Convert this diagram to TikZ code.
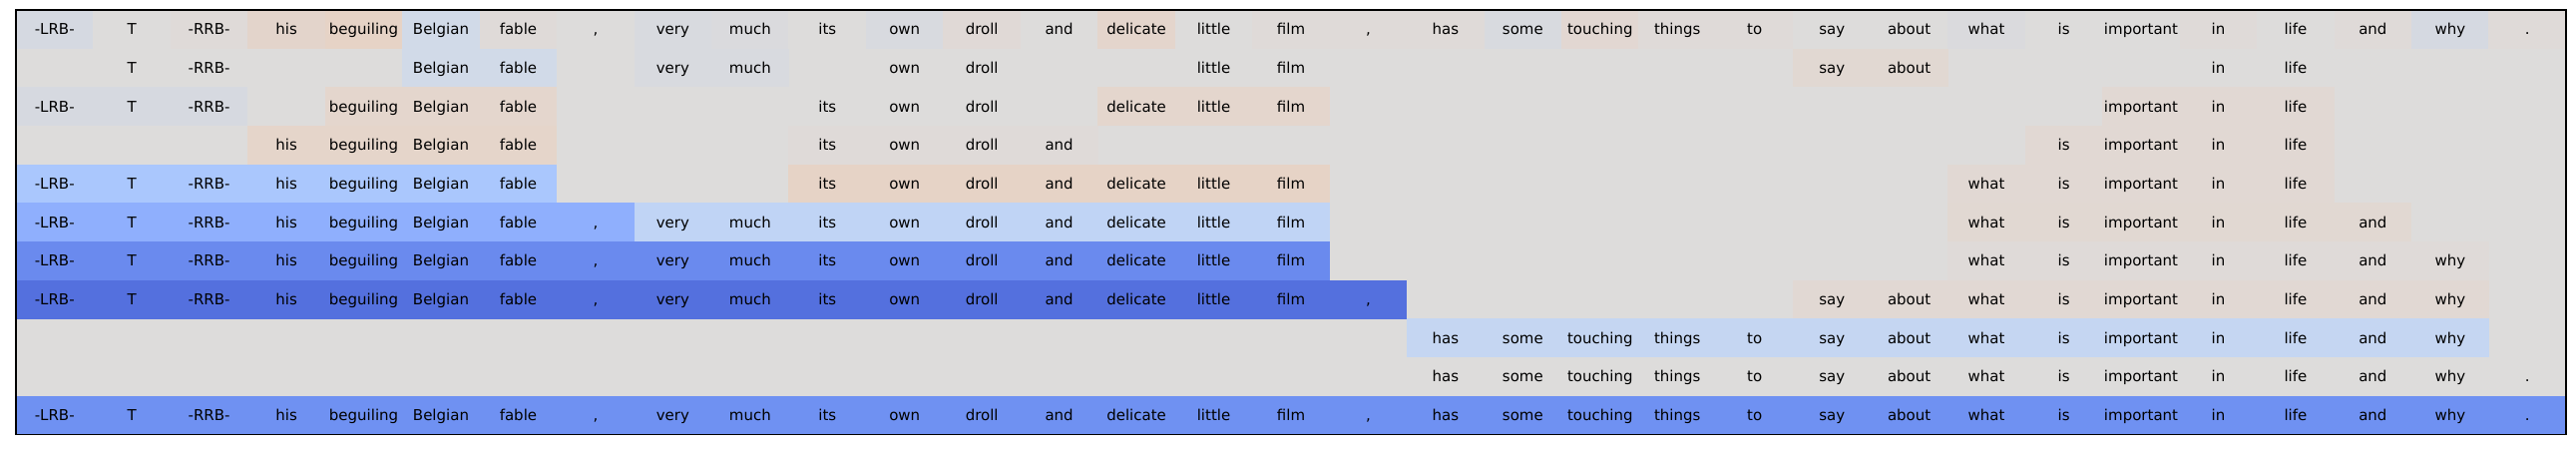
\documentclass[tikz,border=0pt]{standalone}
\usepackage{fontspec}
\setmainfont{DejaVu Sans}
\newcommand\cellfont{\fontsize{15}{18}\selectfont}
\definecolor{gr}{HTML}{DDDCDB}
\definecolor{bgA}{HTML}{D5D9E1}
\definecolor{bgB}{HTML}{D8DADF}
\definecolor{bgC}{HTML}{DADADD}
\definecolor{bgD}{HTML}{D6D9E0}
\definecolor{wA}{HTML}{DFDAD8}
\definecolor{wB}{HTML}{E0D9D6}
\definecolor{wC}{HTML}{E2D7D2}
\definecolor{wD}{HTML}{E1D8D2}
\definecolor{wE}{HTML}{E1D8D3}
\definecolor{pkA}{HTML}{E3D4CB}
\definecolor{pkB}{HTML}{E6D3C6}
\definecolor{pkC}{HTML}{E4D5CC}
\definecolor{pkD}{HTML}{E4D6CD}
\definecolor{pkE}{HTML}{E5D5CA}
\definecolor{lbA}{HTML}{D1DAE8}
\definecolor{bFive}{HTML}{AAC7FD}
\definecolor{bSix}{HTML}{8FAFFD}
\definecolor{bSixL}{HTML}{C0D4F5}
\definecolor{bSeven}{HTML}{6A8AEE}
\definecolor{bEight}{HTML}{5470DE}
\definecolor{bNine}{HTML}{C5D6F2}
\definecolor{bEleven}{HTML}{6F91F2}
\newcommand\tokname[1]{\ifcase#1\or -LRB-\or T\or -RRB-\or his\or beguiling\or Belgian\or fable\or ,\or very\or much\or its\or own\or droll\or and\or delicate\or little\or film\or ,\or has\or some\or touching\or things\or to\or say\or about\or what\or is\or important\or in\or life\or and\or why\or .\fi}
\tikzset{cellbox/.style={minimum width=77.7pt, minimum height=38.9pt, inner sep=0pt, outer sep=0pt, text height=10.9pt, text depth=0pt, font=\cellfont, text=black}}
\newcommand\cellat[3]{\node[cellbox, fill=#3] (r#1c#2) at ({16+(#2-0.5)*77.4545}, {10+(#1-0.5)*38.682}) {\tokname{#2}};}
\begin{document}
\begin{tikzpicture}[x=1pt, y=-1pt]
\useasboundingbox (0,0) rectangle (2582,451);
\node[fill=gr, minimum width=2556pt, minimum height=425.5pt, inner sep=0pt, outer sep=0pt] (bg) at (1294,222.75) {};
% row 1
\foreach \c/\k in {1/bgA,2/gr,3/wA,4/pkA,5/pkB,6/lbA,7/wA,8/gr,9/bgB,10/bgC,11/gr,12/bgB,13/wB,14/gr,15/pkC,16/gr,17/wA,18/wA,19/wA,20/bgB,21/wC,22/wA,23/wA,24/gr,25/gr,26/bgC,27/gr,28/gr,29/wA,30/gr,31/wA,32/bgA,33/wA} {\cellat{1}{\c}{\k}}
% row 2
\foreach \c/\k in {2/gr,3/gr,6/lbA,7/lbA,9/bgB,10/bgB,12/gr,13/gr,16/gr,17/gr,24/wD,25/wD,29/gr,30/gr} {\cellat{2}{\c}{\k}}
% row 3
\foreach \c/\k in {1/bgD,2/bgD,3/bgD,5/pkD,6/pkD,7/pkD,11/gr,12/gr,13/gr,15/pkD,16/pkD,17/pkD,28/wE,29/wE,30/wE} {\cellat{3}{\c}{\k}}
% row 4
\foreach \c/\k in {4/pkE,5/pkE,6/pkE,7/pkE,11/wA,12/wA,13/wA,14/wA,27/wE,28/wE,29/wE,30/wE} {\cellat{4}{\c}{\k}}
% row 5
\foreach \c in {1,...,7} {\cellat{5}{\c}{bFive}}
\foreach \c in {11,...,17} {\cellat{5}{\c}{pkB}}
\foreach \c in {26,...,30} {\cellat{5}{\c}{wE}}
% row 6
\foreach \c in {1,...,8} {\cellat{6}{\c}{bSix}}
\foreach \c in {9,...,17} {\cellat{6}{\c}{bSixL}}
\foreach \c in {26,...,31} {\cellat{6}{\c}{wD}}
% row 7
\foreach \c in {1,...,17} {\cellat{7}{\c}{bSeven}}
\foreach \c in {26,...,32} {\cellat{7}{\c}{wA}}
% row 8
\foreach \c in {1,...,18} {\cellat{8}{\c}{bEight}}
\foreach \c in {24,...,32} {\cellat{8}{\c}{wE}}
% row 9
\foreach \c in {19,...,32} {\cellat{9}{\c}{bNine}}
% row 10
\foreach \c in {19,...,33} {\cellat{10}{\c}{gr}}
% row 11
\foreach \c in {1,...,33} {\cellat{11}{\c}{bEleven}}
\node[draw=black, line width=1.6pt, minimum width=2556pt, minimum height=425.5pt, inner sep=0pt, outer sep=0pt] (frame) at (1294,222.75) {};
\end{tikzpicture}
\end{document}
